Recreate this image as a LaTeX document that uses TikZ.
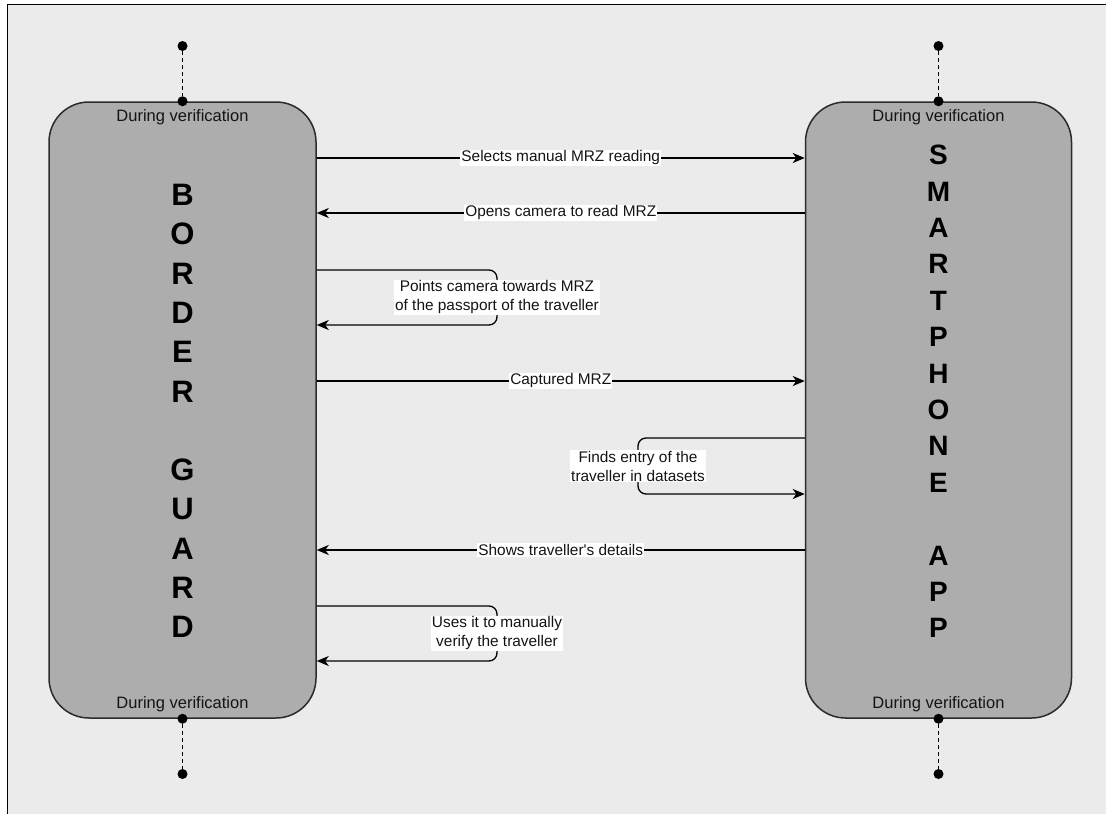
\documentclass[tikz,border=0pt]{standalone}
\usepackage{fontspec}
\setmainfont{Liberation Sans}
\usetikzlibrary{arrows.meta}
\definecolor{pagebg}{HTML}{EBEBEB}
\definecolor{lanefill}{HTML}{ADADAD}
\definecolor{edgecol}{HTML}{2B2B2B}
\definecolor{inkcol}{HTML}{141414}
\begin{document}
\begin{tikzpicture}[x=1pt,y=-1pt,
  lifebox/.style={draw=edgecol, fill=lanefill, line width=1.5pt, rounded corners=40pt,
    minimum width=267pt, minimum height=616pt, inner sep=0pt},
  phase/.style={text=inkcol, font=\fontsize{16.5}{19}\selectfont, inner sep=0pt},
  lab/.style={fill=white, text=inkcol, inner sep=1pt, align=center,
    font=\fontsize{15.4}{19}\selectfont},
  flow/.style={draw=black, line width=1.3pt, -{Stealth[length=12pt, width=10pt, inset=3.5pt]}},
  loopflow/.style={flow, rounded corners=8pt},
  dot/.style={circle, fill=black, minimum size=10pt, inner sep=0pt},
  tether/.style={draw=black, line width=1.2pt, dash pattern=on 4pt off 3pt},
  vword/.style={text=black, align=center, inner sep=0pt}
]
\useasboundingbox (0,0) rectangle (1106,814);
\fill[white] (0,0) rectangle (1106,814);
\draw[line width=1.3pt, fill=pagebg] (7.5,4.5) rectangle (1120,830);

% the two participants
\node[lifebox] (guard) at (182.5,410) {};
\node[lifebox, minimum width=266pt] (app) at (938.5,410) {};

\node[vword, font=\fontsize{31}{39.3}\selectfont\bfseries] (guardname) at (182.5,411)
  {B\\O\\R\\D\\E\\R\\~\\G\\U\\A\\R\\D};
\node[vword, font=\fontsize{28}{36.4}\selectfont\bfseries] (appname) at (938.5,391.5)
  {S\\M\\A\\R\\T\\P\\H\\O\\N\\E\\~\\A\\P\\P};

\node[phase] (gtop) at (182.5,117) {During verification};
\node[phase] (gbot) at (182.5,704) {During verification};
\node[phase] (atop) at (938.5,117) {During verification};
\node[phase] (abot) at (938.5,704) {During verification};

% lifeline ends
\node[dot] (gt1) at (182.5,46) {};
\node[dot] (gt2) at (guard.north) {};
\node[dot] (gb1) at (guard.south) {};
\node[dot] (gb2) at (182.5,774) {};
\node[dot] (at1) at (938.5,46) {};
\node[dot] (at2) at (app.north) {};
\node[dot] (ab1) at (app.south) {};
\node[dot] (ab2) at (938.5,774) {};
\draw[tether] (gt1) -- (gt2);
\draw[tether] (gb1) -- (gb2);
\draw[tether] (at1) -- (at2);
\draw[tether] (ab1) -- (ab2);

% messages
\draw[flow] (guard.east |- 0,158) -- node[lab] {Selects manual MRZ reading} (app.west |- 0,158);
\draw[flow] (app.west |- 0,213) -- node[lab] {Opens camera to read MRZ} (guard.east |- 0,213);

\coordinate (bend1) at (497,297.5);
\draw[loopflow] (guard.east |- 0,270) -| (bend1) |- (guard.east |- 0,325);
\node[lab] (loop1) at (bend1) {Points camera towards MRZ\\of the passport of the traveller};

\draw[flow] (guard.east |- 0,381) -- node[lab] {Captured MRZ} (app.west |- 0,381);

\coordinate (bend2) at (638,466);
\draw[loopflow] (app.west |- 0,438) -| (bend2) |- (app.west |- 0,494);
\node[lab] (loop2) at (bend2) {Finds entry of the\\traveller in datasets};

\draw[flow] (app.west |- 0,550) -- node[lab] {Shows traveller\textquotesingle s details} (guard.east |- 0,550);

\coordinate (bend3) at (497,633.5);
\draw[loopflow] (guard.east |- 0,606) -| (bend3) |- (guard.east |- 0,661);
\node[lab] (loop3) at (bend3) {Uses it to manually\\verify the traveller};
\end{tikzpicture}
\end{document}
